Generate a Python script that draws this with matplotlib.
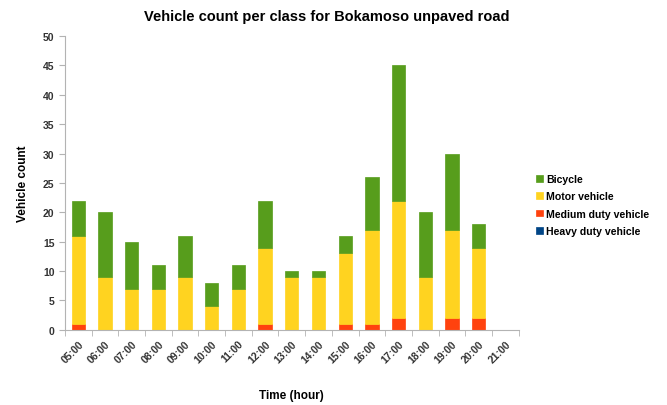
"""Stacked vehicle counts per hour for Bokamoso unpaved road."""

import matplotlib
matplotlib.use('Agg')
import matplotlib.pyplot as plt
import numpy as np

hours = ['05:00', '06:00', '07:00', '08:00', '09:00', '10:00', '11:00', '12:00',
         '13:00', '14:00', '15:00', '16:00', '17:00', '18:00', '19:00', '20:00', '21:00']
heavy = [0, 0, 0, 0, 0, 0, 0, 0, 0, 0, 0, 0, 0, 0, 0, 0, 0]
medium = [1, 0, 0, 0, 0, 0, 0, 1, 0, 0, 1, 1, 2, 0, 2, 2, 0]
motor = [15, 9, 7, 7, 9, 4, 7, 13, 9, 9, 12, 16, 20, 9, 15, 12, 0]
bicycle = [6, 11, 8, 4, 7, 4, 4, 8, 1, 1, 3, 9, 23, 11, 13, 4, 0]

series_names = ['Heavy duty vehicle', 'Medium duty vehicle', 'Motor vehicle', 'Bicycle']
colors = ['#004586', '#ff420e', '#ffd320', '#579d1c']

plt.rcParams['font.family'] = ['Liberation Sans', 'DejaVu Sans']

fig = plt.figure(figsize=(6.67, 4.06), dpi=100)
ax = fig.add_axes([0.0975, 0.185, 0.68, 0.724])

x = np.arange(len(hours))
bottom = np.zeros(len(hours))
handles = []
for name, vals, col in zip(series_names, [heavy, medium, motor, bicycle], colors):
    vals = np.array(vals, dtype=float)
    b = ax.bar(x, vals, width=0.5, bottom=bottom, color=col,
               edgecolor=col, linewidth=0.5, label=name)
    handles.append(b)
    bottom += vals

ax.set_xlim(-0.5, len(hours) - 0.5)
ax.set_ylim(0, 50)
ax.set_yticks(np.arange(0, 55, 5))
ax.set_xticks(x)
ax.set_xticklabels(hours, rotation=45, ha='right', rotation_mode='anchor',
                   fontsize=7.5, fontweight='bold', color='#333333')
# boundary ticks between categories
ax.set_xticks(np.arange(-0.5, len(hours), 1.0), minor=True)
ax.tick_params(axis='x', which='major', length=0, pad=6)
ax.tick_params(axis='x', which='minor', length=4, color='#b3b3b3')
ax.tick_params(axis='y', length=4, color='#b3b3b3', labelsize=7.5, labelcolor='#333333')
for lbl in ax.get_yticklabels():
    lbl.set_fontweight('bold')

for side in ['top', 'right']:
    ax.spines[side].set_visible(False)
for side in ['left', 'bottom']:
    ax.spines[side].set_color('#b3b3b3')
    ax.spines[side].set_linewidth(0.8)

ax.set_ylabel('Vehicle count', fontsize=8.5, fontweight='bold', labelpad=10)
ax.set_xlabel('Time (hour)', fontsize=8.5, fontweight='bold', labelpad=18)
fig.suptitle('Vehicle count per class for Bokamoso unpaved road',
             x=0.49, y=0.975, fontsize=10.5, fontweight='bold')

leg = ax.legend(handles[::-1], series_names[::-1], loc='center left',
                bbox_to_anchor=(1.018, 0.425), frameon=False,
                handlelength=0.6, handleheight=0.6, handletextpad=0.3,
                labelspacing=0.7, prop={'weight': 'bold', 'size': 7.6})

fig.savefig('out.png', dpi=100)
